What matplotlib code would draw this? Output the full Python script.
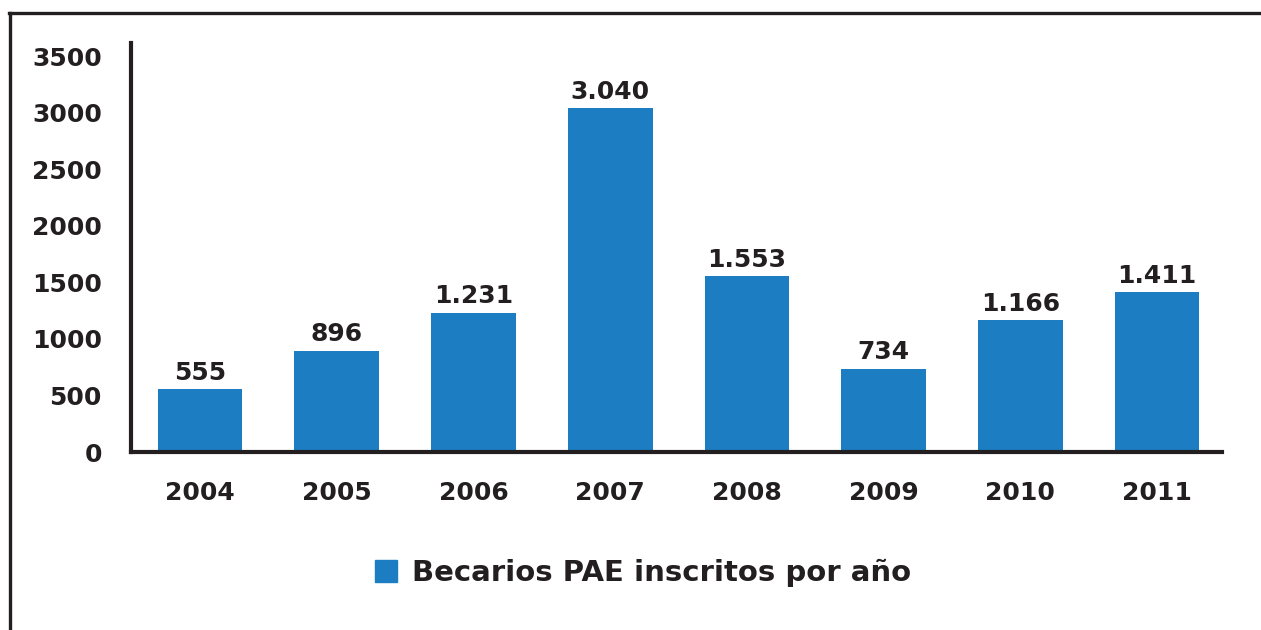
import matplotlib.pyplot as plt
from matplotlib.lines import Line2D
from matplotlib.patches import Patch

years = ["2004", "2005", "2006", "2007", "2008", "2009", "2010", "2011"]
becarios = [555, 896, 1231, 3040, 1553, 734, 1166, 1411]
y_ticks = [0, 500, 1000, 1500, 2000, 2500, 3000, 3500]
legend_label = "Becarios PAE inscritos por año"

dark = "#231f20"
blue = "#1c7dc3"

plt.rcParams['font.family'] = ['DejaVu Sans']
plt.rcParams['font.weight'] = 'bold'

fig = plt.figure(figsize=(12.61, 6.30), dpi=100)
ax = fig.add_axes([131 / 1261, 178 / 630, (1222 - 131) / 1261, (452 - 43) / 630])

x = list(range(len(years)))
bars = ax.bar(x, becarios, width=0.62, color=blue, zorder=2)

def fmt(v):
    return "{:,}".format(v).replace(",", ".")

for xi, v in zip(x, becarios):
    ax.text(xi, v + 40, fmt(v), ha='center', va='bottom', fontsize=18,
            fontweight='bold', color=dark)

ax.set_xlim(-0.505, 7.475)
ax.set_ylim(0, 3616)
ax.set_xticks(x)
ax.set_xticklabels(years)
ax.set_yticks(y_ticks)
ax.tick_params(axis='both', length=0, labelsize=18, colors=dark)
ax.tick_params(axis='y', pad=21)
ax.tick_params(axis='x', pad=21)
for lbl in ax.get_xticklabels() + ax.get_yticklabels():
    lbl.set_fontweight('bold')

for s in ['top', 'right']:
    ax.spines[s].set_visible(False)
for s in ['left', 'bottom']:
    ax.spines[s].set_linewidth(3)
    ax.spines[s].set_color(dark)
    ax.spines[s].set_zorder(3)

# outer frame (top and left only)
fig.add_artist(Line2D([9 / 1261, 1.0], [1 - 13 / 630, 1 - 13 / 630],
                      transform=fig.transFigure, color=dark, lw=2.4))
fig.add_artist(Line2D([10 / 1261, 10 / 1261], [0, 1 - 13 / 630],
                      transform=fig.transFigure, color=dark, lw=2.4))

fig.legend(handles=[Patch(color=blue, label=legend_label)],
           loc='center', bbox_to_anchor=(643 / 1261, 1 - 573 / 630),
           frameon=False, handlelength=0.75, handleheight=0.75,
           handletextpad=0.5, prop={'weight': 'bold', 'size': 21})
for t in fig.legends[0].get_texts():
    t.set_color(dark)

fig.savefig("out.png", dpi=100, facecolor='white')
